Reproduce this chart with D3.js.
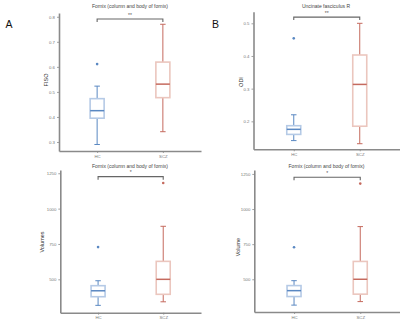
<!doctype html>
<html>
<head>
    <meta charset="utf-8">
    <script src="https://d3js.org/d3.v7.min.js"></script>
    <style>
        body { margin: 0; background: #fff; }
        text { font-family: "Liberation Sans", Arial, sans-serif; }
    </style>
</head>
<body>
    <script>
        // box stats: [lower whisker, q1, median, q3, upper whisker]
        let groups = ["HC", "SCZ"];
        let fisoHC = [0.29, 0.395, 0.425, 0.473, 0.523];
        let fisoSCZ = [0.341, 0.477, 0.531, 0.619, 0.77];
        let fisoOutHC = [0.611];
        let fisoOutSCZ = [];
        let odiHC = [0.141, 0.160, 0.1755, 0.1866, 0.220];
        let odiSCZ = [0.1315, 0.185, 0.313, 0.403, 0.5];
        let odiOutHC = [0.454];
        let odiOutSCZ = [];
        let volHC = [316, 377, 419, 455, 490];
        let volSCZ = [341, 394, 500, 627, 875];
        let volOutHC = [728];
        let volOutSCZ = [1181];
        let fisoTicks = [0.3, 0.4, 0.5, 0.6, 0.7, 0.8];
        let odiTicks = [0.2, 0.3, 0.4, 0.5];
        let volTicks = [500, 750, 1000, 1250];

        let dark = {HC: "#5a88c2", SCZ: "#c56a5e"};
        let light = {HC: "#b5cae6", SCZ: "#ebc6be"};
        let axisCol = "#8a8a8a";

        let svg = d3.select("body").append("svg")
                    .attr("width", 400).attr("height", 325);

        function drawPanel(p) {
            let y = d3.scaleLinear().domain(p.yDomain).range([p.bottom, p.top]);
            let x = d3.scalePoint().domain(groups).range([p.left, p.right]).padding(p.pad);
            let g = svg.append("g");

            // axes
            let yAxis = g.append("g").attr("transform", "translate(" + p.left + ",0)")
                .call(d3.axisLeft(y).tickValues(p.ticks).tickSizeInner(2).tickSizeOuter(0)
                    .tickPadding(2).tickFormat(p.fmt));
            let xAxis = g.append("g").attr("transform", "translate(0," + p.bottom + ")")
                .call(d3.axisBottom(x).tickSizeInner(2).tickSizeOuter(0).tickPadding(1.5));
            [yAxis, xAxis].forEach(function(a) {
                a.select(".domain").attr("stroke", axisCol).attr("stroke-width", 1.6);
                a.selectAll(".tick line").attr("stroke", axisCol).attr("stroke-width", 0.8);
                a.selectAll(".tick text").attr("fill", "#777").style("font-size", "4.3px");
            });

            // boxes
            let bw = 14, cw = 5.5;
            groups.forEach(function(gr, i) {
                let s = p.stats[i], cx = x(gr);
                g.append("line").attr("x1", cx).attr("x2", cx).attr("y1", y(s[4])).attr("y2", y(s[3]))
                    .attr("stroke", dark[gr]).attr("stroke-width", 1);
                g.append("line").attr("x1", cx).attr("x2", cx).attr("y1", y(s[1])).attr("y2", y(s[0]))
                    .attr("stroke", dark[gr]).attr("stroke-width", 1);
                [s[0], s[4]].forEach(function(v) {
                    g.append("line").attr("x1", cx - cw / 2).attr("x2", cx + cw / 2)
                        .attr("y1", y(v)).attr("y2", y(v))
                        .attr("stroke", dark[gr]).attr("stroke-width", 1);
                });
                g.append("rect").attr("x", cx - bw / 2).attr("width", bw)
                    .attr("y", y(s[3])).attr("height", y(s[1]) - y(s[3]))
                    .attr("fill", "#fff").attr("stroke", light[gr]).attr("stroke-width", 1.6);
                g.append("line").attr("x1", cx - bw / 2).attr("x2", cx + bw / 2)
                    .attr("y1", y(s[2])).attr("y2", y(s[2]))
                    .attr("stroke", dark[gr]).attr("stroke-width", 1.5);
                g.selectAll(null).data(p.outliers[i]).enter().append("circle")
                    .attr("cx", cx).attr("cy", function(d){ return y(d); }).attr("r", 1.3)
                    .attr("fill", dark[gr]);
            });

            // significance bracket
            let by = y(p.sigY), x0 = x("HC"), x1 = x("SCZ");
            g.append("path")
                .attr("d", "M" + x0 + "," + (by + 3) + "V" + by + "H" + x1 + "V" + (by + 3))
                .attr("fill", "none").attr("stroke", "#666").attr("stroke-width", 1.1);
            g.append("text").attr("x", (x0 + x1) / 2).attr("y", by - 2.5)
                .attr("text-anchor", "middle").attr("fill", "#555").style("font-size", "5px")
                .text(p.sig);

            // titles
            g.append("text").attr("x", p.titleX).attr("y", p.titleY).attr("text-anchor", "middle")
                .attr("fill", "#444").style("font-size", "5px").text(p.title);
            g.append("text").attr("transform", "translate(" + p.labelX + "," + p.labelY + ") rotate(-90)")
                .attr("text-anchor", "middle").attr("fill", "#333").style("font-size", "5.5px")
                .text(p.yLabel);
        }

        drawPanel({left: 59, right: 201, top: 13, bottom: 151, pad: 0.58,
            yDomain: [0.264, 0.815], ticks: fisoTicks, fmt: d3.format(".1f"),
            stats: [fisoHC, fisoSCZ], outliers: [fisoOutHC, fisoOutSCZ],
            sigY: 0.791, sig: "**", title: "Fornix (column and body of fornix)", titleX: 130, titleY: 7.8,
            yLabel: "FISO", labelX: 48, labelY: 80});
        drawPanel({left: 253.5, right: 400, top: 11.7, bottom: 149.3, pad: 0.61,
            yDomain: [0.1144, 0.5355], ticks: odiTicks, fmt: d3.format(".1f"),
            stats: [odiHC, odiSCZ], outliers: [odiOutHC, odiOutSCZ],
            sigY: 0.519, sig: "**", title: "Uncinate fasciculus R", titleX: 326, titleY: 7.5,
            yLabel: "ODI", labelX: 242.5, labelY: 82});
        drawPanel({left: 60.3, right: 201, top: 170, bottom: 312.7, pad: 0.58,
            yDomain: [264, 1273], ticks: volTicks, fmt: d3.format("d"),
            stats: [volHC, volSCZ], outliers: [volOutHC, volOutSCZ],
            sigY: 1226, sig: "*", title: "Fornix (column and body of fornix)", titleX: 130, titleY: 167.5,
            yLabel: "Volumes", labelX: 44, labelY: 242});
        drawPanel({left: 254.3, right: 400, top: 170, bottom: 312, pad: 0.6,
            yDomain: [267, 1278], ticks: volTicks, fmt: d3.format("d"),
            stats: [volHC, volSCZ], outliers: [volOutHC, volOutSCZ],
            sigY: 1226, sig: "*", title: "Fornix (column and body of fornix)", titleX: 326.5, titleY: 167.5,
            yLabel: "Volume", labelX: 239.5, labelY: 247});

        // panel letters
        svg.append("text").attr("x", 5.5).attr("y", 27.5).style("font-size", "10.5px")
            .attr("fill", "#111").text("A");
        svg.append("text").attr("x", 212).attr("y", 27.5).style("font-size", "10.5px")
            .attr("fill", "#111").text("B");
    </script>
</body>
</html>
